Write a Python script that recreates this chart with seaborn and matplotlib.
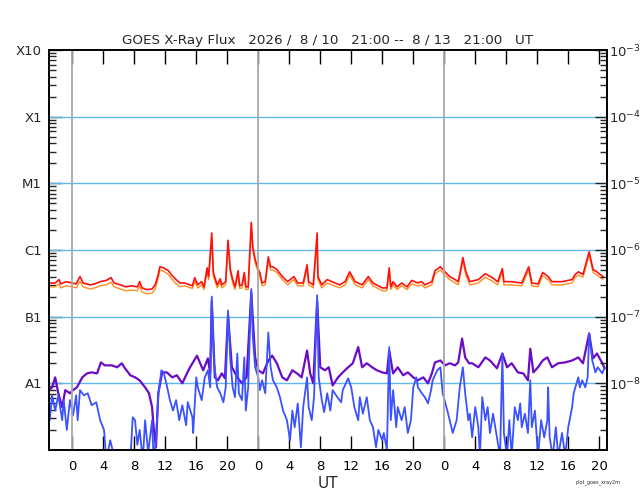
import numpy as np
import pandas as pd
import matplotlib
matplotlib.use("Agg")
import matplotlib.pyplot as plt
from matplotlib.ticker import FixedLocator, LogLocator, NullFormatter
import seaborn as sns

# hours since 2026-08-10 21:00 UT
long_hours = [
    0.0, 0.8, 1.3, 1.5, 2.2, 3.0, 3.5, 4.0, 4.4, 5.3,
    5.9, 6.6, 7.4, 8.0, 8.4, 9.2, 9.9, 10.7, 11.4, 11.7,
    12.0, 12.6, 13.3, 13.7, 14.1, 14.3, 14.8, 15.4, 15.9, 16.4,
    16.9, 17.5, 18.5, 18.8, 19.2, 19.7, 20.0, 20.4, 20.6, 21.0,
    21.2, 21.7, 22.1, 22.3, 22.8, 23.1, 23.4, 23.7, 24.0, 24.4,
    24.6, 24.9, 25.2, 25.4, 25.7, 26.1, 26.3, 26.6, 27.0, 27.2,
    27.5, 27.9, 28.3, 28.6, 28.9, 29.4, 30.1, 30.8, 31.6, 32.1,
    32.8, 33.3, 33.5, 34.1, 34.6, 34.7, 35.2, 35.9, 36.5, 37.5,
    38.2, 38.8, 39.5, 40.4, 41.2, 41.8, 43.0, 43.6, 43.9, 44.1,
    44.4, 44.9, 45.5, 46.2, 46.8, 47.6, 48.1, 48.5, 49.4, 49.8,
    50.5, 51.1, 51.7, 52.4, 52.8, 53.0, 53.4, 53.8, 54.3, 55.4,
    56.3, 57.2, 57.9, 58.5, 58.7, 59.7, 61.0, 61.9, 62.3, 63.1,
    63.7, 64.4, 64.9, 66.2, 67.5, 67.9, 68.3, 68.9, 69.7, 70.2,
    70.7, 71.1, 71.5,
]
# 0.1-0.8 nm channel, units of 1e-7 W/m^2
long_red = [
    3.2, 3.2, 3.6, 3.1, 3.35, 3.2, 3.1, 4.0, 3.2, 3.0,
    3.1, 3.35, 3.5, 3.85, 3.2, 3.0, 2.8, 2.9, 2.8, 3.35,
    2.7, 2.55, 2.6, 3.0, 4.3, 5.6, 5.4, 4.9, 4.1, 3.6,
    3.2, 3.2, 2.9, 3.85, 3.0, 3.35, 2.8, 5.4, 4.0, 18,
    4.6, 3.0, 3.7, 3.0, 3.35, 14, 5.1, 3.6, 2.8, 4.9,
    2.9, 3.0, 4.6, 2.8, 2.8, 26, 11, 7.2, 5.1, 4.6,
    3.2, 3.35, 7.9, 5.6, 5.6, 5.1, 4.0, 3.35, 4.0, 3.2,
    3.2, 6.0, 3.35, 3.0, 18, 4.0, 3.0, 3.6, 3.35, 3.0,
    3.35, 4.7, 3.35, 3.0, 4.0, 3.2, 2.7, 2.7, 5.4, 2.8,
    3.35, 2.8, 3.2, 2.8, 3.5, 3.2, 3.35, 3.0, 3.35, 4.9,
    5.6, 4.7, 4.0, 3.6, 3.35, 4.3, 7.7, 4.7, 3.35, 3.6,
    4.4, 3.85, 3.35, 5.25, 3.35, 3.35, 3.2, 5.6, 3.2, 3.1,
    4.6, 4.0, 3.35, 3.35, 3.6, 4.3, 4.7, 4.3, 9.4, 5.1,
    4.7, 4.3, 4.0,
]
long_orange = [
    2.8, 2.8, 3.1, 2.7, 2.9, 2.8, 2.7, 3.4, 2.8, 2.6,
    2.7, 2.9, 3.0, 3.3, 2.8, 2.6, 2.45, 2.5, 2.45, 2.9,
    2.35, 2.2, 2.25, 2.6, 3.8, 5.0, 4.8, 4.3, 3.6, 3.1,
    2.8, 2.9, 2.65, 3.4, 2.7, 3.0, 2.55, 4.8, 3.6, 15,
    4.1, 2.7, 3.3, 2.7, 3.0, 12, 4.6, 3.2, 2.55, 4.4,
    2.65, 2.7, 4.1, 2.55, 2.55, 22, 9.8, 6.4, 4.6, 4.1,
    2.9, 3.0, 7.0, 5.0, 5.0, 4.6, 3.6, 3.0, 3.6, 2.9,
    2.9, 5.3, 3.0, 2.7, 15, 3.6, 2.7, 3.2, 3.0, 2.7,
    3.0, 4.2, 3.0, 2.7, 3.6, 2.9, 2.45, 2.45, 4.8, 2.55,
    3.0, 2.55, 2.9, 2.55, 3.1, 2.9, 3.0, 2.7, 3.0, 4.4,
    5.0, 4.2, 3.6, 3.2, 3.0, 3.9, 6.8, 4.2, 3.0, 3.2,
    3.9, 3.4, 3.0, 4.7, 3.0, 3.0, 2.9, 5.0, 2.9, 2.8,
    4.1, 3.6, 3.0, 3.0, 3.2, 3.9, 4.2, 3.9, 8.4, 4.6,
    4.2, 3.9, 3.6,
]

# 0.05-0.4 nm channel, units of 1e-8 W/m^2
short_p_hours = [
    0.0, 0.4, 0.8, 1.2, 1.7, 2.1, 2.7, 3.1, 3.6, 4.3,
    4.9, 5.5, 6.2, 6.7, 7.2, 8.1, 8.8, 9.4, 9.8, 10.5,
    11.1, 11.7, 12.4, 12.9, 13.3, 13.5, 13.8, 14.1, 14.6, 15.2,
    15.9, 16.5, 17.2, 17.8, 18.2, 19.1, 19.5, 19.9, 20.5, 20.8,
    21.0, 21.4, 21.8, 22.3, 22.7, 23.1, 23.6, 24.3, 24.9, 25.5,
    26.1, 26.6, 27.0, 27.6, 28.3, 28.8, 29.4, 30.1, 30.7, 31.4,
    32.0, 32.6, 33.3, 33.7, 34.1, 34.6, 35.0, 35.6, 36.1, 36.6,
    37.3, 37.9, 38.6, 39.2, 39.9, 40.4, 41.0, 41.7, 42.3, 43.0,
    43.6, 43.9, 44.4, 45.0, 45.7, 46.3, 47.0, 47.6, 48.3, 48.9,
    49.4, 49.8, 50.5, 51.1, 51.7, 52.4, 52.8, 53.3, 53.7, 54.2,
    54.6, 55.4, 56.3, 56.9, 57.8, 58.5, 59.1, 59.7, 60.5, 61.2,
    61.8, 62.1, 62.5, 63.1, 63.7, 64.3, 64.9, 65.7, 66.6, 67.5,
    68.3, 68.9, 69.7, 70.2, 70.7, 71.4, 71.7,
]
short_purple = [
    0.79, 0.87, 1.23, 0.71, 0.44, 0.79, 0.71, 0.79, 0.87, 1.23,
    1.41, 1.46, 1.41, 2.06, 1.86, 1.86, 1.74, 2.0, 1.68, 1.32,
    1.23, 1.11, 0.87, 0.71, 0.44, 0.22, 0.11, 0.71, 1.46, 1.46,
    1.23, 1.32, 1.0, 1.41, 1.74, 2.6, 2.0, 1.57, 2.37, 1.41,
    17, 1.23, 1.11, 1.41, 1.19, 10.5, 1.74, 1.23, 1.0, 1.23,
    23, 2.45, 1.57, 1.41, 2.2, 2.6, 2.0, 1.23, 1.11, 1.57,
    1.41, 1.23, 3.1, 1.41, 1.0, 17, 1.74, 1.57, 1.74, 0.93,
    1.23, 1.46, 1.74, 2.0, 3.5, 1.74, 2.0, 1.74, 1.57, 1.46,
    1.41, 3.1, 1.41, 1.74, 1.32, 1.46, 1.23, 1.11, 1.23, 1.0,
    1.41, 2.06, 2.2, 1.86, 2.0, 1.86, 2.06, 4.7, 2.45, 2.0,
    2.0, 1.74, 2.45, 2.2, 1.68, 2.8, 1.74, 2.0, 1.46, 1.41,
    1.11, 3.3, 1.46, 1.74, 2.2, 2.45, 1.74, 2.0, 2.06, 2.2,
    2.45, 2.0, 5.6, 2.37, 2.8, 2.0, 1.68,
]

short_b_hours = [
    0.0, 0.1, 0.4, 0.8, 1.2, 1.7, 1.9, 2.3, 2.7, 3.1,
    3.5, 3.7, 4.0, 4.5, 5.0, 5.5, 6.1, 6.6, 7.1, 7.4,
    7.9, 8.3, 8.8, 9.2, 9.8, 10.5, 10.8, 11.1, 11.4, 11.7,
    12.1, 12.4, 12.8, 13.3, 13.5, 13.8, 14.1, 14.5, 14.8, 15.2,
    15.6, 16.0, 16.4, 16.8, 17.2, 17.7, 17.9, 18.5, 18.6, 19.0,
    19.2, 19.7, 20.1, 20.5, 20.8, 21.0, 21.3, 21.7, 22.1, 22.5,
    22.8, 23.1, 23.4, 23.7, 24.0, 24.3, 24.5, 24.9, 25.2, 25.4,
    25.7, 26.1, 26.3, 26.6, 27.0, 27.2, 27.5, 27.9, 28.3, 28.6,
    28.9, 29.4, 29.8, 30.2, 30.7, 31.1, 31.4, 31.7, 32.1, 32.5,
    32.8, 33.3, 33.5, 33.9, 34.2, 34.6, 34.8, 35.2, 35.5, 35.9,
    36.3, 36.6, 37.2, 37.7, 37.9, 38.6, 39.0, 39.4, 39.9, 40.1,
    40.5, 41.0, 41.4, 41.8, 42.2, 42.5, 43.0, 43.2, 43.6, 43.9,
    44.1, 44.4, 44.8, 45.0, 45.5, 45.9, 46.3, 46.7, 47.0, 47.4,
    47.6, 48.1, 48.5, 48.9, 49.3, 49.5, 50.1, 50.5, 50.8, 51.4,
    51.7, 52.1, 52.6, 53.0, 53.4, 53.7, 54.1, 54.3, 54.6, 55.0,
    55.4, 55.6, 55.9, 56.3, 56.6, 56.9, 57.3, 57.8, 58.2, 58.5,
    58.7, 59.1, 59.4, 59.7, 60.1, 60.5, 60.8, 61.0, 61.4, 61.8,
    62.1, 62.3, 62.7, 63.1, 63.5, 63.9, 64.3, 64.4, 64.6, 65.0,
    65.4, 65.7, 66.2, 66.6, 67.0, 67.5, 67.7, 68.3, 68.5, 68.8,
    69.2, 69.5, 69.7, 70.1, 70.5, 70.8, 71.4, 71.7,
]
short_blue = [
    0.56, 0.28, 0.66, 0.39, 0.66, 0.28, 0.56, 0.2, 0.56, 0.33,
    0.66, 0.28, 0.79, 0.66, 0.71, 0.47, 0.52, 0.28, 0.2, 0.07,
    0.14, 0.09, 0.1, 0.07, 0.09, 0.07, 0.31, 0.28, 0.12, 0.2,
    0.07, 0.28, 0.09, 0.28, 0.07, 0.14, 0.66, 1.57, 1.46, 0.93,
    0.56, 0.39, 0.56, 0.28, 0.47, 0.235, 0.52, 0.31, 0.18, 1.23,
    0.87, 0.56, 1.23, 1.57, 0.87, 20, 2.0, 0.87, 0.71, 0.52,
    0.87, 12.4, 2.2, 0.87, 0.62, 2.8, 0.71, 0.56, 2.45, 0.39,
    0.87, 26, 4.9, 1.74, 1.23, 0.79, 1.11, 0.71, 5.8, 1.74,
    1.11, 0.87, 0.62, 0.39, 0.28, 0.14, 0.39, 0.22, 0.5, 0.11,
    0.44, 1.23, 0.44, 0.28, 0.62, 21, 1.23, 0.56, 0.37, 0.71,
    0.39, 0.79, 0.62, 0.52, 0.79, 1.19, 0.87, 0.44, 0.28, 0.62,
    0.35, 0.62, 0.28, 0.22, 0.11, 0.2, 0.14, 0.18, 0.1, 3.5,
    0.28, 0.79, 0.22, 0.44, 0.28, 0.44, 0.18, 0.28, 0.87, 1.23,
    0.87, 0.71, 0.62, 0.5, 0.79, 1.11, 1.57, 1.74, 0.71, 0.39,
    0.28, 0.18, 0.28, 0.87, 1.74, 0.71, 0.28, 0.35, 0.155, 0.44,
    0.22, 0.08, 0.62, 0.28, 0.44, 0.18, 0.35, 0.155, 0.08, 2.8,
    0.18, 0.08, 0.28, 0.08, 0.44, 0.28, 0.5, 0.22, 0.35, 0.18,
    1.11, 0.22, 0.39, 0.08, 0.28, 0.155, 0.28, 0.87, 0.155, 0.08,
    0.22, 0.08, 0.18, 0.08, 0.22, 0.44, 0.71, 1.23, 0.87, 1.11,
    0.87, 1.23, 5.6, 2.2, 1.46, 1.74, 1.41, 1.74,
]

title = "GOES X-Ray Flux   2026 /  8 / 10   21:00 --  8 / 13   21:00   UT"
class_levels = [1e-3, 1e-4, 1e-5, 1e-6, 1e-7, 1e-8]
class_labels = ["X10", "X1", "M1", "C1", "B1", "A1"]
power_labels = [r"$10^{-3}$", r"$10^{-4}$", r"$10^{-5}$",
                r"$10^{-6}$", r"$10^{-7}$", r"$10^{-8}$"]
hour_ticks = [3, 7, 11, 15, 19, 23, 27, 31, 35, 39, 43, 47, 51, 55, 59, 63, 67, 71]
hour_labels = ["0", "4", "8", "12", "16", "20"] * 3
day_starts = [3, 27, 51]

sns.set_theme(style="ticks")
plt.rcParams["font.family"] = ["DejaVu Sans"]

series = [
    ("long_b", long_hours, long_orange, 1e-7, "#ff9020", 1.0),
    ("long_a", long_hours, long_red, 1e-7, "#ff1010", 1.2),
    ("short_a", short_p_hours, short_purple, 1e-8, "#6a0cc8", 1.6),
    ("short_b", short_b_hours, short_blue, 1e-8, "#3b52ff", 1.3),
]

fig = plt.figure(figsize=(6.4, 5), dpi=100)
ax = fig.add_axes([49 / 640, 0.1, 558 / 640, 0.8])

for lev in class_levels[1:]:
    ax.axhline(lev, color="#5fb9f0", lw=1.0, zorder=1)
for d in day_starts:
    ax.axvline(d, color="#a9a9a9", lw=1.3, zorder=3)

for name, hrs, vals, unit, col, lw in series:
    df = pd.DataFrame({"hours": hrs, "flux": np.array(vals) * unit})
    sns.lineplot(data=df, x="hours", y="flux", ax=ax, color=col, linewidth=lw,
                 estimator=None, sort=False, zorder=2)

ax.set_yscale("log")
ax.set_ylim(1e-9, 1e-3)
ax.set_xlim(0, 72)

ax.xaxis.set_major_locator(FixedLocator(hour_ticks))
ax.set_xticklabels(hour_labels)
ax.yaxis.set_major_locator(FixedLocator(class_levels))
ax.set_yticklabels(class_labels)
ax.yaxis.set_minor_locator(LogLocator(base=10, subs=np.arange(2, 10), numticks=20))
ax.yaxis.set_minor_formatter(NullFormatter())

ax.tick_params(axis="x", which="major", direction="in", length=10, width=1,
               top=True, bottom=True, labelsize=9.5, pad=7, colors="black")
ax.tick_params(axis="x", which="minor", bottom=False, top=False)
ax.tick_params(axis="y", which="major", direction="in", length=9, width=1,
               left=True, right=False, labelsize=9.5, pad=5)
ax.tick_params(axis="y", which="minor", direction="in", length=5, width=1,
               left=True, right=False)

ax2 = ax.twinx()
ax2.set_yscale("log")
ax2.set_ylim(1e-9, 1e-3)
ax2.yaxis.set_major_locator(FixedLocator(class_levels))
ax2.set_yticklabels(power_labels)
ax2.yaxis.set_minor_locator(LogLocator(base=10, subs=np.arange(2, 10), numticks=20))
ax2.yaxis.set_minor_formatter(NullFormatter())
ax2.tick_params(axis="y", which="major", direction="in", length=9, width=1,
                labelsize=9.5, pad=1.5)
ax2.tick_params(axis="y", which="minor", direction="in", length=5, width=1)

for a in (ax, ax2):
    for sp in a.spines.values():
        sp.set_color("black")
        sp.set_linewidth(1.2)

ax.set_ylabel("")
ax.set_xlabel("UT", fontsize=11, labelpad=2)
ax.set_title(title, fontsize=9.7, pad=4)
fig.text(0.935, 0.033, "plot_goes_xray2m", fontsize=3.5, ha="center")

fig.savefig("out.png", dpi=100)
